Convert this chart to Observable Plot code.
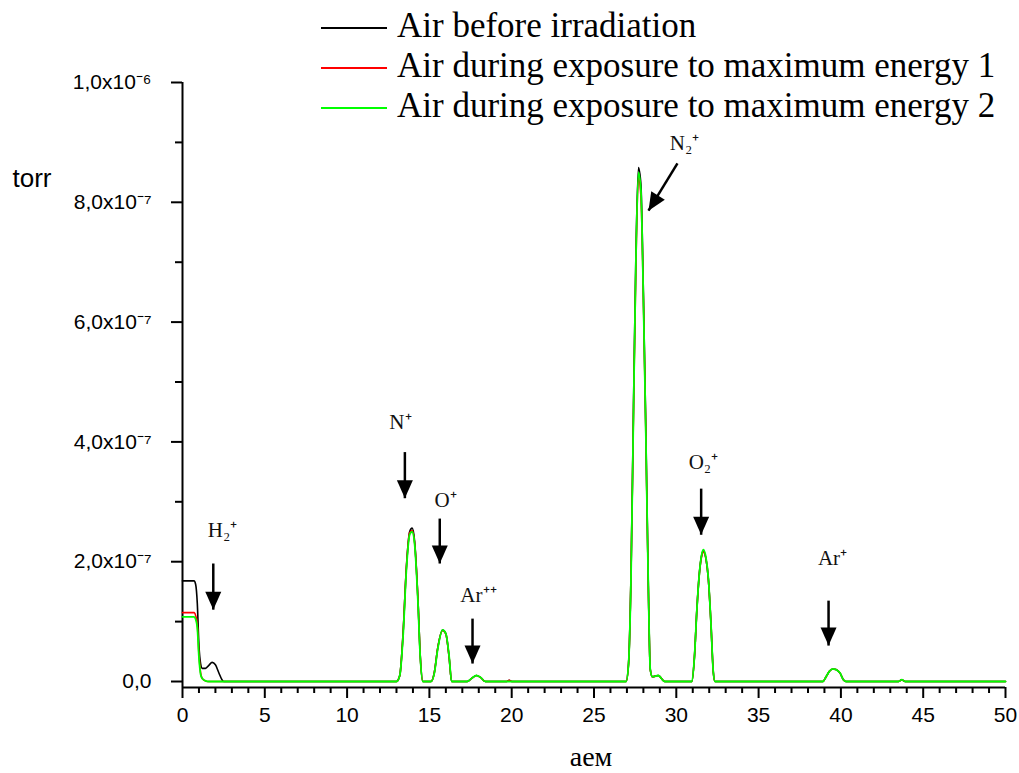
<!DOCTYPE html>
<html><head><meta charset="utf-8">
<script src="https://cdn.jsdelivr.net/npm/d3@7"></script>
<script src="https://cdn.jsdelivr.net/npm/@observablehq/plot@0.6"></script>
<style>
body{margin:0;background:#fff;}
#wrap{position:relative;width:1019px;height:773px;overflow:hidden;}
#legend{position:absolute;left:0;top:0;font-family:"Liberation Serif","Times New Roman",serif;font-size:35px;color:#000;z-index:2;}
.row{position:absolute;left:321px;white-space:nowrap;height:0;}
.sw{position:absolute;left:0;width:66px;height:0;border-top:2px solid;}
.lt{position:absolute;left:76px;line-height:1;}
</style></head><body><div id="wrap"><div id="legend"></div><div id="chart"></div></div>
<script>
// x: atomic mass units; y values in units of 1e-7 torr
const amu = [
  0, 0.7, 0.8, 0.9, 1.0, 1.1, 1.2, 1.4, 1.6, 1.8, 2.0, 2.2, 2.4, 2.5,
  13.0, 13.2, 13.4, 13.6, 13.8, 13.95, 14.1, 14.3, 14.45, 14.6,
  15.1, 15.3, 15.5, 15.8, 16.0, 16.2, 16.35,
  17.3, 17.6, 17.85, 18.1, 18.4,
  19.7, 19.85, 20.0,
  26.95, 27.1, 27.25, 27.4, 27.55, 27.7, 27.85, 28.0, 28.15, 28.3, 28.42, 28.55, 28.9, 29.3,
  30.95, 31.1, 31.25, 31.4, 31.55, 31.65, 31.8, 31.95, 32.1, 32.25, 32.35,
  38.9, 39.1, 39.3, 39.5, 39.7, 39.95, 40.15, 40.3,
  43.5, 43.7, 43.9,
  50
];
const beforeIrr = [
  1.68, 1.68, 1.62, 1.3, 0.6, 0.3, 0.22, 0.22, 0.27, 0.32, 0.28, 0.15, 0.03, 0,
  0, 0.1, 0.8, 1.9, 2.5, 2.56, 2.35, 1.4, 0.4, 0,
  0, 0.15, 0.55, 0.86, 0.8, 0.4, 0,
  0, 0.06, 0.1, 0.07, 0,
  0, 0.02, 0,
  0, 0.3, 1.8, 4.6, 7.2, 8.58, 8.3, 6.5, 4.2, 1.6, 0.2, 0.08, 0.1, 0,
  0, 0.4, 1.2, 1.8, 2.12, 2.18, 2.05, 1.7, 1.0, 0.15, 0,
  0, 0.08, 0.17, 0.21, 0.2, 0.14, 0.03, 0,
  0, 0.03, 0,
  0
];
const exposure1 = [
  1.15, 1.15, 1.1, 0.95, 0.45, 0.15, 0.05, 0.01, 0, 0, 0, 0, 0, 0,
  0, 0.1, 0.8, 1.9, 2.48, 2.52, 2.32, 1.4, 0.4, 0,
  0, 0.15, 0.55, 0.85, 0.79, 0.4, 0,
  0, 0.06, 0.1, 0.07, 0,
  0, 0.02, 0,
  0, 0.3, 1.8, 4.5, 7.0, 8.4, 8.1, 6.4, 4.1, 1.6, 0.2, 0.08, 0.1, 0,
  0, 0.4, 1.2, 1.8, 2.1, 2.16, 2.05, 1.7, 1.0, 0.15, 0,
  0, 0.08, 0.17, 0.21, 0.2, 0.14, 0.03, 0,
  0, 0.03, 0,
  0
];
const exposure2 = [
  1.08, 1.08, 1.04, 0.9, 0.4, 0.12, 0.05, 0.01, 0, 0, 0, 0, 0, 0,
  0, 0.1, 0.75, 1.85, 2.45, 2.5, 2.3, 1.35, 0.38, 0,
  0, 0.14, 0.53, 0.86, 0.8, 0.42, 0,
  0, 0.06, 0.1, 0.07, 0,
  0, 0, 0,
  0, 0.3, 1.75, 4.5, 7.1, 8.5, 8.2, 6.4, 4.1, 1.6, 0.2, 0.08, 0.1, 0,
  0, 0.4, 1.2, 1.8, 2.13, 2.2, 2.07, 1.72, 1.0, 0.15, 0,
  0, 0.08, 0.17, 0.21, 0.2, 0.14, 0.03, 0,
  0, 0.03, 0,
  0
];
const seriesNames = ["Air before irradiation", "Air during exposure to maximum energy 1", "Air during exposure to maximum energy 2"];
const seriesColors = ["#000000", "#ff0000", "#00ff00"];
const seriesValues = [beforeIrr, exposure1, exposure2];

const xTicks = [0, 5, 10, 15, 20, 25, 30, 35, 40, 45, 50];
const xMinor = d3.range(0, 51).filter(v => v % 5 !== 0);
const yTicks = [0, 2, 4, 6, 8, 10];
const yTickLabels = ["0,0", "2,0x10\u207B\u2077", "4,0x10\u207B\u2077", "6,0x10\u207B\u2077", "8,0x10\u207B\u2077", "1,0x10\u207B\u2076"];
const yMinor = [1, 3, 5, 7, 9];

// peak annotations (data units)
const peakLabels = ["H\u2082\u207A", "N\u207A", "O\u207A", "Ar\u207A\u207A", "N\u2082\u207A", "O\u2082\u207A", "Ar\u207A"];
const labelX = [2.43, 13.24, 15.98, 17.98, 30.5, 31.65, 39.49];
const labelY = [2.52, 4.32, 3.02, 1.44, 8.98, 3.66, 2.05];
const arrowX1 = [1.87, 13.51, 15.63, 17.62, 30.07, 31.51, 39.25];
const arrowY1 = [1.97, 3.83, 2.72, 1.05, 8.65, 3.22, 1.35];
const arrowX2 = [1.87, 13.51, 15.63, 17.62, 28.31, 31.51, 39.25];
const arrowY2 = [1.20, 3.06, 1.97, 0.30, 7.86, 2.45, 0.60];
const arrowAngle = [0, 0, 0, 0, 32, 0, 0];

const data = [];
seriesValues.forEach((vals, s) => {
  vals.forEach((v, i) => data.push({series: seriesNames[s], amu: amu[i], torr: v}));
});
const ann = peakLabels.map((t, i) => ({t, lx: labelX[i], ly: labelY[i], x1: arrowX1[i], y1: arrowY1[i], x2: arrowX2[i], y2: arrowY2[i], a: arrowAngle[i]}));

const headSymbol = {
  draw(ctx) {
    ctx.moveTo(0, 0);
    ctx.lineTo(-8, -18);
    ctx.lineTo(8, -18);
    ctx.closePath();
  }
};

const chart = Plot.plot({
  width: 1019,
  height: 773,
  marginLeft: 182,
  marginRight: 14,
  marginTop: 82,
  marginBottom: 86,
  style: {fontFamily: "'Liberation Sans', Arial, sans-serif", fontSize: "21px", color: "#000", background: "#fff", overflow: "visible"},
  x: {domain: [0, 50]},
  y: {domain: [-0.1, 10]},
  color: {domain: seriesNames, range: seriesColors},
  marks: [
    Plot.axisX({ticks: xMinor, tickSize: 6, tickFormat: () => "", strokeWidth: 2, label: null}),
    Plot.axisX({ticks: xTicks, tickSize: 11, tickPadding: 9, strokeWidth: 2, fontSize: 21, label: null, tickFormat: d => String(d)}),
    Plot.axisY({ticks: yMinor, tickSize: 7, tickFormat: () => "", strokeWidth: 2, label: null}),
    Plot.axisY({ticks: yTicks, tickSize: 11, tickPadding: 20, strokeWidth: 2, fontSize: 21, label: null, tickFormat: d => yTickLabels[yTicks.indexOf(d)]}),
    Plot.ruleY([-0.1], {x1: 0, x2: 50, strokeWidth: 2, stroke: "#000"}),
    Plot.ruleX([0], {y1: -0.1, y2: 10, strokeWidth: 2, stroke: "#000"}),
    Plot.line(data.filter(d => d.series === seriesNames[0]), {x: "amu", y: "torr", stroke: "series", strokeWidth: 1.6, curve: "monotone-x"}),
    Plot.line(data.filter(d => d.series === seriesNames[1]), {x: "amu", y: "torr", stroke: "series", strokeWidth: 1.6, curve: "monotone-x"}),
    Plot.line(data.filter(d => d.series === seriesNames[2]), {x: "amu", y: "torr", stroke: "series", strokeWidth: 1.8, curve: "monotone-x"}),
    Plot.link(ann, {x1: "x1", y1: "y1", x2: "x2", y2: "y2", stroke: "#000", strokeWidth: 2.5}),
    Plot.dot(ann, {x: "x2", y: "y2", symbol: headSymbol, fill: "#000", stroke: "none", rotate: "a", r: 5}),
    Plot.text(ann, {x: "lx", y: "ly", text: "t", fontFamily: "'Liberation Serif', 'Times New Roman', serif", fontSize: 21, fill: "#111"}),
    Plot.text(["torr"], {frameAnchor: "top-left", dx: -170, dy: 86, text: d => d, fontSize: 26, textAnchor: "start"}),
    Plot.text(["аем"], {frameAnchor: "bottom", dy: 78, dx: -3, text: d => d, fontSize: 28, fontFamily: "'Liberation Serif', 'Times New Roman', serif"})
  ]
});
document.getElementById("chart").appendChild(chart);

const legend = document.getElementById("legend");
const baselines = [36, 76, 116];
seriesNames.forEach((name, i) => {
  const row = document.createElement("div");
  row.className = "row";
  row.style.top = baselines[i] + "px";
  const sw = document.createElement("div");
  sw.className = "sw";
  sw.style.borderColor = seriesColors[i];
  sw.style.top = "-9px";
  const t = document.createElement("div");
  t.className = "lt";
  t.style.top = "-28px";
  t.textContent = name;
  row.appendChild(sw);
  row.appendChild(t);
  legend.appendChild(row);
});
</script>
</body></html>
